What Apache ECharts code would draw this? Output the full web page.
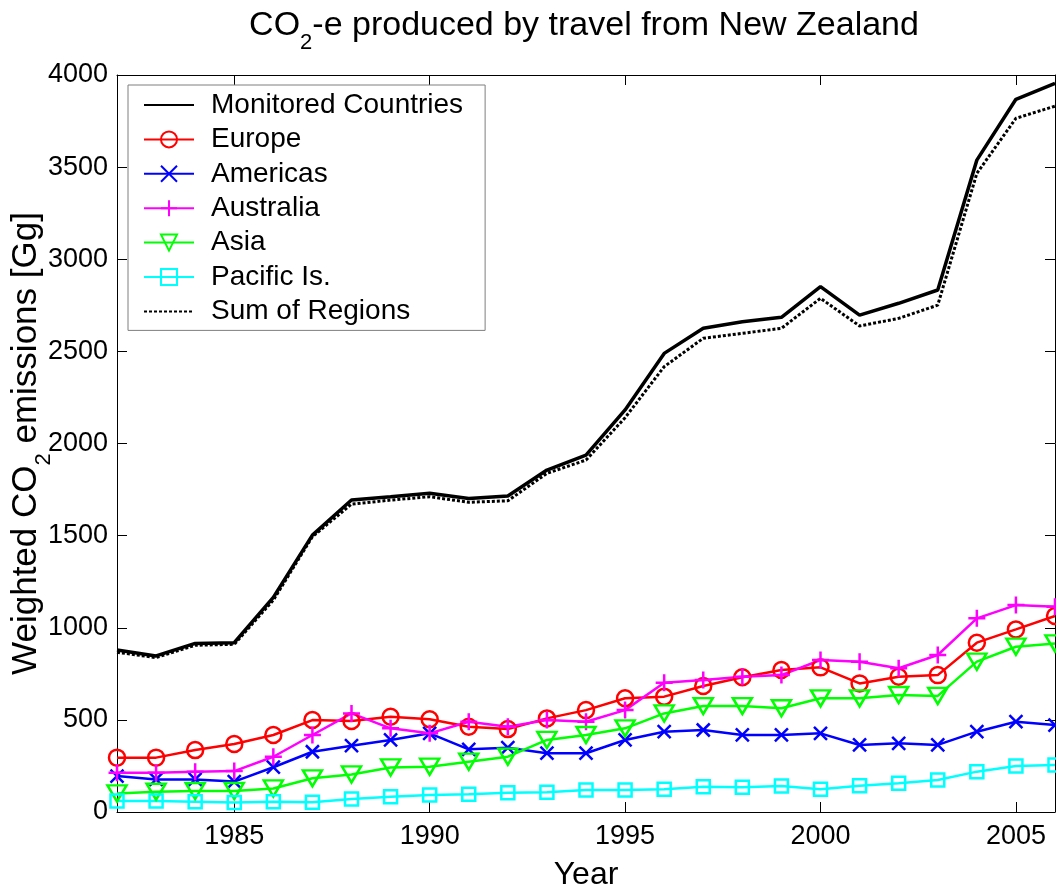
<!DOCTYPE html>
<html>
<head>
<meta charset="utf-8">
<script src="https://cdn.jsdelivr.net/npm/echarts@6/dist/echarts.min.js"></script>
<style>html,body{margin:0;padding:0;background:#fff}#c{width:1056px;height:888px}</style>
</head>
<body>
<div id="c"></div>
<script>
const years = [1982,1983,1984,1985,1986,1987,1988,1989,1990,1991,1992,1993,1994,1995,1996,1997,1998,1999,2000,2001,2002,2003,2004,2005,2006];
const monitored = [879,847,915,919,1165,1503,1693,1711,1730,1702,1715,1856,1937,2182,2489,2625,2661,2685,2851,2697,2761,2833,3538,3868,3955];
const europe = [295,295,336,369,418,499,494,517,503,463,450,508,553,617,626,684,731,771,785,698,734,743,919,991,1064];
const americas = [195,177,177,165,243,327,360,391,427,340,349,319,319,391,436,445,418,418,427,364,373,364,436,490,472];
const australia = [213,213,219,222,300,418,535,454,427,490,463,499,490,553,702,716,734,743,825,816,780,852,1051,1123,1114];
const asia = [101,110,114,114,128,183,204,242,246,273,300,391,418,454,535,575,575,563,617,617,635,630,816,897,915];
const pacific = [60,60,56,51,56,53,71,83,92,96,105,107,119,119,123,137,134,141,123,143,156,174,219,250,255];
const sumRegions = [867,838,905,910,1150,1494,1671,1693,1711,1681,1689,1838,1910,2140,2417,2571,2598,2625,2788,2638,2679,2751,3466,3765,3831];
const xTicks = [1985,1990,1995,2000,2005];

const FONT = '"Liberation Sans", Arial, Helvetica, sans-serif';
const pairs = arr => years.map((y, i) => [y, arr[i]]);
const plain = v => String(v);

function markerSeries(name, data, color, symbol, size, rotate) {
  return {
    name, type: 'line', data: pairs(data),
    symbol, symbolSize: size, symbolRotate: rotate || 0, showSymbol: true,
    lineStyle: { color, width: 2.5 },
    itemStyle: { color: 'rgba(0,0,0,0)', borderColor: color, borderWidth: 2.5 },
    emphasis: { disabled: true }
  };
}

const chart = echarts.init(document.getElementById('c'), null, { renderer: 'canvas' });
chart.setOption({
  animation: false,
  backgroundColor: '#fff',
  title: {
    text: '{a|CO}{s|2}{a|-e produced by travel from New Zealand}',
    left: 584, textAlign: 'center', top: -2, padding: 0,
    textStyle: {
      fontWeight: 'normal',
      rich: {
        a: { fontSize: 34, fontFamily: FONT, color: '#000', fontWeight: 'normal' },
        s: { fontSize: 22, fontFamily: FONT, color: '#000', fontWeight: 'normal', padding: [34, 0, 0, 0] }
      }
    }
  },
  grid: { left: 117, right: 1, top: 75, bottom: 76, show: false, containLabel: false, outerBoundsMode: 'none' },
  legend: {
    orient: 'vertical', left: 128, top: 85,
    padding: [6, 22, 5, 15],
    itemWidth: 50, itemHeight: 20, itemGap: 6.4,
    backgroundColor: '#fff', borderColor: '#7f7f7f', borderWidth: 1,
    textStyle: { fontSize: 28, fontFamily: FONT, color: '#000', lineHeight: 28, padding: [0, 0, 0, 12] },
    data: ['Monitored Countries', 'Europe', 'Americas', 'Australia', 'Asia', 'Pacific Is.', 'Sum of Regions']
  },
  xAxis: [{
    type: 'value', min: 1982, max: 2006, position: 'bottom',
    name: 'Year', nameLocation: 'middle', nameGap: 47, nameMoveOverlap: false,
    nameTextStyle: { fontSize: 32, fontFamily: FONT, color: '#000' },
    axisLine: { show: true, onZero: false, lineStyle: { color: '#000', width: 1 } },
    axisTick: { show: true, inside: true, length: 10, customValues: xTicks, lineStyle: { color: '#000' } },
    axisLabel: { show: true, customValues: xTicks, margin: 11, fontSize: 27, fontFamily: FONT, color: '#000', formatter: plain },
    splitLine: { show: false }
  }, {
    type: 'value', min: 1982, max: 2006, position: 'top',
    axisLine: { show: true, onZero: false, lineStyle: { color: '#000', width: 1 } },
    axisTick: { show: true, inside: true, length: 10, customValues: xTicks, lineStyle: { color: '#000' } },
    axisLabel: { show: false },
    splitLine: { show: false }
  }],
  yAxis: [{
    type: 'value', min: 0, max: 4000, interval: 500, position: 'left',
    name: '{a|Weighted CO}{s|2}{a| emissions [Gg]}', nameLocation: 'middle', nameGap: 62, nameRotate: 90,
    nameMoveOverlap: false,
    nameTextStyle: {
      rich: {
        a: { fontSize: 35, fontFamily: FONT, color: '#000' },
        s: { fontSize: 22, fontFamily: FONT, color: '#000', padding: [36, 0, 0, 0] }
      }
    },
    axisLine: { show: true, onZero: false, lineStyle: { color: '#000', width: 1 } },
    axisTick: { show: true, inside: true, length: 10, lineStyle: { color: '#000' } },
    axisLabel: { show: true, margin: 9, fontSize: 27, fontFamily: FONT, color: '#000', formatter: plain },
    splitLine: { show: false }
  }, {
    type: 'value', min: 0, max: 4000, interval: 500, position: 'right',
    axisLine: { show: true, onZero: false, lineStyle: { color: '#000', width: 1 } },
    axisTick: { show: true, inside: true, length: 10, lineStyle: { color: '#000' } },
    axisLabel: { show: false },
    splitLine: { show: false }
  }],
  series: [
    {
      name: 'Monitored Countries', type: 'line', data: pairs(monitored),
      symbol: 'none', lineStyle: { color: '#000', width: 3.5 },
      itemStyle: { color: 'rgba(0,0,0,0)', borderWidth: 0 },
      emphasis: { disabled: true }
    },
    markerSeries('Europe', europe, '#ff0000', 'circle', 16),
    markerSeries('Americas', americas, '#0000ff', 'path://M0,0L10,10M10,0L0,10', 13),
    markerSeries('Australia', australia, '#ff00ff', 'path://M5,0L5,10M0,5L10,5', 17),
    markerSeries('Asia', asia, '#00ff00', 'triangle', [19, 16], 180),
    markerSeries('Pacific Is.', pacific, '#00ffff', 'rect', 13),
    {
      name: 'Sum of Regions', type: 'line', data: pairs(sumRegions),
      symbol: 'none', lineStyle: { color: '#000', width: 3, type: [3, 2] },
      itemStyle: { color: 'rgba(0,0,0,0)', borderWidth: 0 },
      emphasis: { disabled: true }
    }
  ]
});
</script>
</body>
</html>
